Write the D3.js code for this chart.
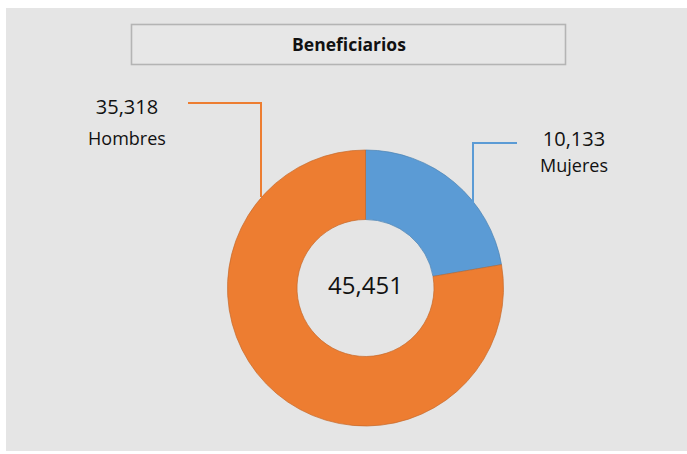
<!DOCTYPE html>
<html><head><meta charset="utf-8">
<script src="https://cdn.jsdelivr.net/npm/d3@7"></script>
<style>body{margin:0;background:#fff;}svg{display:block;}</style>
</head><body>
<svg id="c" width="687" height="454"></svg>
<script>
const categories = ["Mujeres", "Hombres"];
const values = [10133, 35318];
const colors = ["#5B9BD5", "#ED7D31"];
const title = "Beneficiarios";
const totalLabel = "45,451";

const svg = d3.select("#c");
const font = "'Open Sans', 'Noto Sans', sans-serif";
svg.append("rect").attr("x", 6).attr("y", 8).attr("width", 681).attr("height", 443).attr("fill", "#e5e5e5");
svg.append("rect").attr("x", 131.5).attr("y", 24.5).attr("width", 434).attr("height", 40)
  .attr("fill", "#e7e7e7").attr("stroke", "#b4b4b4").attr("stroke-width", 1.6);
svg.append("text").attr("x", 349).attr("y", 51).attr("text-anchor", "middle")
  .attr("font-family", font).attr("font-weight", "bold").attr("font-size", 17.5).attr("fill", "#111").text(title);

const cx = 365.5, cy = 288, R = 138, r = 68.5;
const g = svg.append("g").attr("transform", `translate(${cx},${cy})`);
const pie = d3.pie().sort(null).value(d => d)(values);
const arc = d3.arc().innerRadius(r).outerRadius(R);
g.selectAll("path").data(pie).enter().append("path")
  .attr("d", arc).attr("fill", (d, i) => colors[i])
  .attr("stroke", (d, i) => d3.color(colors[i]).darker(0.5)).attr("stroke-width", 0.7);

g.append("text").attr("x", 0).attr("y", 6).attr("text-anchor", "middle")
  .attr("font-family", font).attr("font-size", 24).attr("fill", "#111").text(totalLabel);

const fmt = d3.format(",");
const leaders = [
  { i: 0, pts: [[517, 143], [473, 143], [473, 203]], lx: 574, ly1: 146, ly2: 172 },
  { i: 1, pts: [[188, 103], [261, 103], [261, 197]], lx: 127, ly1: 114, ly2: 145 }
];
leaders.forEach(L => {
  svg.append("path").attr("d", d3.line()(L.pts)).attr("fill", "none")
    .attr("stroke", colors[L.i]).attr("stroke-width", 2);
  svg.append("text").attr("x", L.lx).attr("y", L.ly1).attr("text-anchor", "middle")
    .attr("font-family", font).attr("font-size", 20).attr("fill", "#111").text(fmt(values[L.i]));
  svg.append("text").attr("x", L.lx).attr("y", L.ly2).attr("text-anchor", "middle")
    .attr("font-family", font).attr("font-size", 18).attr("fill", "#111").text(categories[L.i]);
});
</script>
</body></html>
